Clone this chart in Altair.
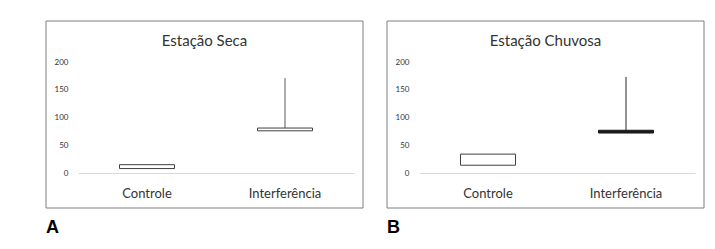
import altair as alt
import pandas as pd

painel = ["A", "A", "B", "B"]
categorias = ["Controle", "Interferência", "Controle", "Interferência"]
q1 = [8, 76, 14, 72]
q3 = [15, 81, 34, 77]
maximo = [15, 171, 34, 173]
titulos = {"A": "Estação Seca", "B": "Estação Chuvosa"}
y_ticks = [0, 50, 100, 150, 200]

df = pd.DataFrame({"painel": painel, "categoria": categorias,
                   "q1": q1, "q3": q3, "maximo": maximo})

FONT = "Lato"
W, H = 276, 111


def make_panel(p):
    d = df[df.painel == p]
    base = alt.Chart(d)
    xenc = alt.X("categoria:N", sort=["Controle", "Interferência"],
                 scale=alt.Scale(paddingInner=0, paddingOuter=0),
                 axis=alt.Axis(title=None, labelAngle=0, labelFontSize=13,
                               labelFont=FONT, labelColor="#333333",
                               domainColor="#d9d9d9", ticks=False,
                               labelPadding=14))
    yscale = alt.Scale(domain=[0, 200], nice=False)
    yaxis = alt.Axis(title=None, values=y_ticks, domain=False,
                     ticks=False, grid=False, labelFontSize=8,
                     labelFont=FONT, labelColor="#333333",
                     labelPadding=10, labelOverlap=False)
    whisker = base.transform_filter("datum.maximo > datum.q3").mark_rule(
        color="#595959" if p == "A" else "#262626", strokeWidth=1
    ).encode(
        x=xenc,
        y=alt.Y("q3:Q", scale=yscale, axis=yaxis),
        y2="maximo:Q",
    )
    box = base.mark_bar(size=55, strokeWidth=1).encode(
        x=xenc,
        y=alt.Y("q1:Q", scale=yscale, axis=yaxis),
        y2="q3:Q",
        fill=alt.condition("datum.painel == 'B' && datum.categoria == 'Interferência'",
                           alt.value("#1a1a1a"), alt.value("white")),
        stroke=alt.condition("datum.painel == 'B' && datum.categoria == 'Interferência'",
                             alt.value("#1a1a1a"), alt.value("#404040")),
    )
    one = alt.Chart(alt.Data(values=[{"t": titulos[p], "p": p}]))
    frame = one.mark_rect(fill="transparent", stroke="#7f7f7f", strokeWidth=1).encode(
        x=alt.value(-32), x2=alt.value(285), y=alt.value(-41), y2=alt.value(146))
    title = one.mark_text(font=FONT, fontSize=15, color="#333333",
                          align="center", baseline="alphabetic").encode(
        x=alt.value(126.5), y=alt.value(-16), text="t:N")
    label = one.mark_text(font="Liberation Sans", fontWeight="bold", fontSize=18,
                          color="black", align="left", baseline="alphabetic").encode(
        x=alt.value(-32), y=alt.value(171), text="p:N")
    return alt.layer(frame, whisker, box, title, label).properties(width=W, height=H)


chart = alt.hconcat(make_panel("A"), make_panel("B"), spacing=22).properties(
    padding={"left": 45, "top": 20, "right": 0, "bottom": 0}
).configure(background="white").configure_view(strokeWidth=0, stroke="transparent")

chart.save("out.html", embed_options={"renderer": "svg", "actions": False})
